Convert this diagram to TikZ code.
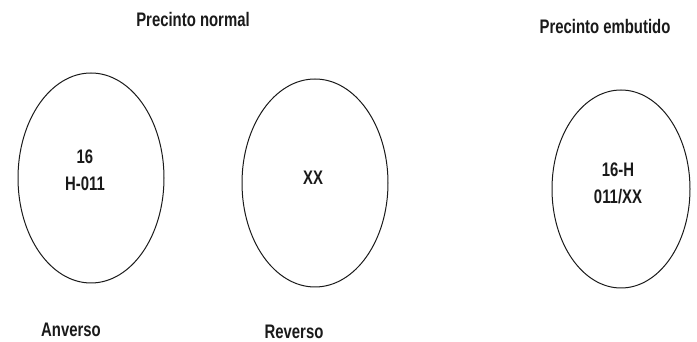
\documentclass[tikz,border=0pt]{standalone}
\usepackage{fontspec}
\setmainfont{Liberation Sans}
\newfontfamily\narrowfont[FakeStretch=0.76]{Liberation Sans}
\usepackage{tikz}
\usetikzlibrary{shapes.geometric}
\definecolor{inkline}{HTML}{1A1A1A}

\begin{document}
\begin{tikzpicture}[x=0.5pt, y=0.5pt,
    seal/.style={draw=inkline, line width=0.5pt, ellipse, inner sep=0pt},
    caption/.style={inkline, font=\narrowfont\bfseries\fontsize{9.8}{11}\selectfont},
    stamp/.style={inkline, align=center, font=\narrowfont\bfseries\fontsize{9.8}{13.5}\selectfont}]

  \useasboundingbox (0,0) rectangle (697,342);

  % ============== Precinto normal ==============
  \node[caption] (normal) at (193,322) {Precinto normal};

  % Anverso
  \node[seal, minimum width=73pt, minimum height=105pt] (anv) at (91,164) {};
  \node[stamp] (anvtxt) at (85,172) {16\\H-011};
  \node[caption] (anvlbl) at (71,12) {Anverso};

  % Reverso
  \node[seal, minimum width=73pt, minimum height=104pt] (rev) at (315,159) {};
  \node[stamp] (revtxt) at (313,164) {XX};
  \node[caption] (revlbl) at (294,10) {Reverso};

  % ============== Precinto embutido ==============
  \node[caption] (embutido) at (605,315) {Precinto embutido};
  \node[seal, minimum width=69pt, minimum height=99pt] (emb) at (621,153) {};
  \node[stamp] (embtxt) at (618,158.5) {16-H\\011/XX};

\end{tikzpicture}
\end{document}
